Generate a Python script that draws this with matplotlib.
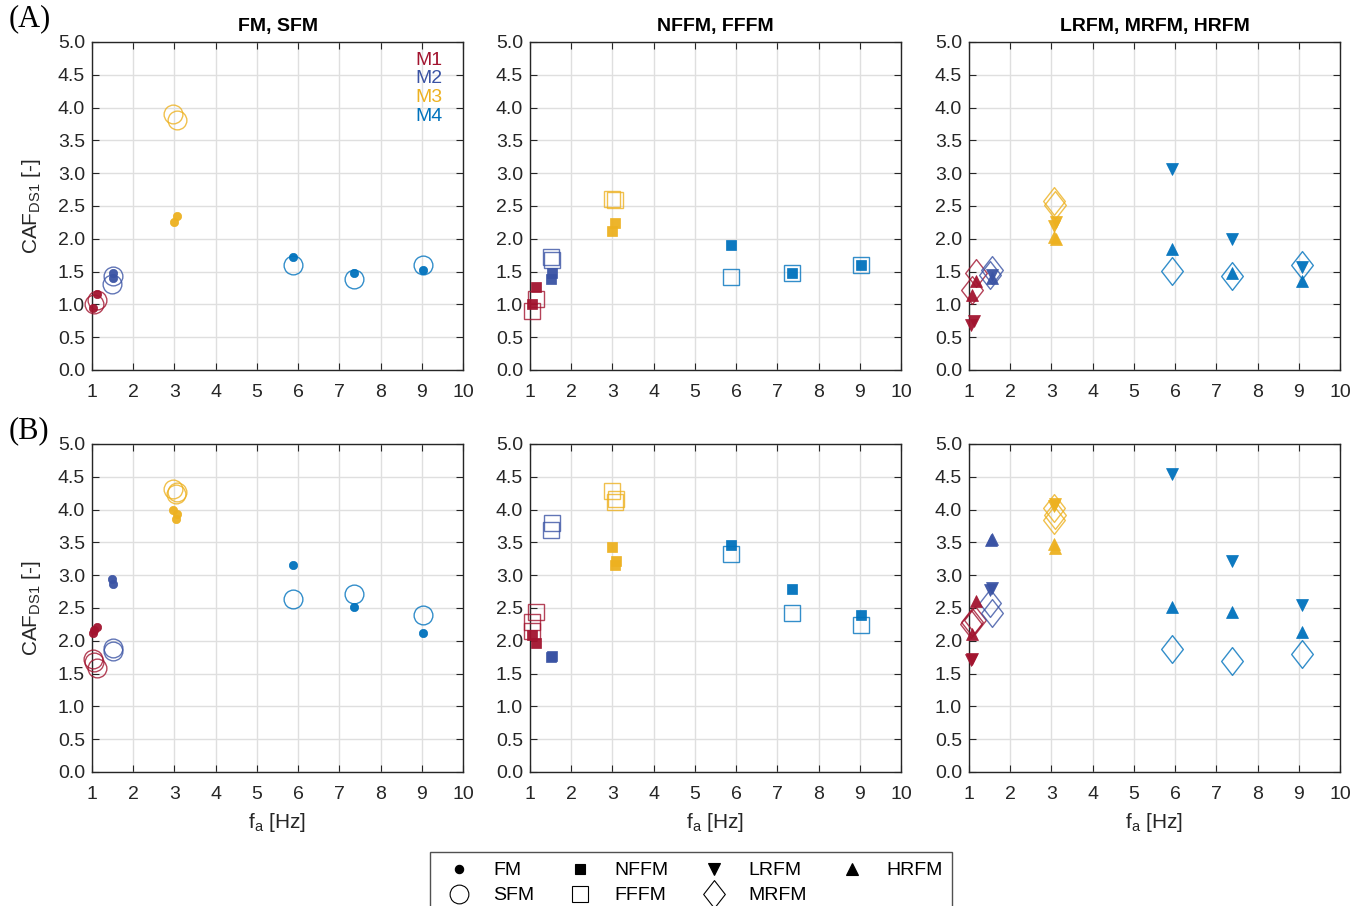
import matplotlib
matplotlib.use('Agg')
import matplotlib.pyplot as plt
from matplotlib.path import Path
from matplotlib.lines import Line2D

plt.rcParams['font.family'] = ['Liberation Sans', 'DejaVu Sans']

# mode colours (M1..M4)
mode_colors = ['#A2142F', '#3A53A4', '#EDB120', '#0072BD']
mode_names = ['M1', 'M2', 'M3', 'M4']

# each entry: (mode, f_a [Hz], CAF_DS1)
# --- case (A) ---
A_FM = [(1, 1.02, 0.94), (1, 1.13, 1.16), (2, 1.50, 1.40), (2, 1.52, 1.48),
        (3, 2.98, 2.26), (3, 3.05, 2.35), (4, 5.87, 1.73), (4, 7.36, 1.48), (4, 9.04, 1.52)]
A_SFM = [(1, 1.05, 1.00), (1, 1.12, 1.07), (2, 1.48, 1.31), (2, 1.52, 1.43),
         (3, 2.97, 3.91), (3, 3.06, 3.81), (4, 5.87, 1.60), (4, 7.36, 1.39), (4, 9.04, 1.60)]
A_NFFM = [(1, 1.04, 1.01), (1, 1.15, 1.26), (2, 1.50, 1.38), (2, 1.53, 1.48),
          (3, 3.00, 2.12), (3, 3.07, 2.24), (4, 5.87, 1.90), (4, 7.35, 1.48), (4, 9.04, 1.60)]
A_FFFM = [(1, 1.04, 0.90), (1, 1.15, 1.08), (2, 1.51, 1.73), (2, 1.54, 1.68),
          (3, 2.99, 2.61), (3, 3.06, 2.59), (4, 5.87, 1.42), (4, 7.35, 1.48), (4, 9.04, 1.60)]
A_LRFM = [(1, 1.05, 0.68), (1, 1.12, 0.74), (2, 1.55, 1.45), (3, 3.07, 2.20),
          (3, 3.10, 2.25), (4, 5.92, 3.07), (4, 7.39, 2.00), (4, 9.07, 1.57)]
A_MRFM = [(1, 1.07, 1.22), (1, 1.17, 1.48), (2, 1.52, 1.45), (2, 1.56, 1.52),
          (3, 3.05, 2.57), (3, 3.09, 2.51), (4, 5.92, 1.51), (4, 7.39, 1.44), (4, 9.07, 1.60)]
A_HRFM = [(1, 1.07, 1.14), (1, 1.17, 1.35), (2, 1.55, 1.40), (3, 3.07, 2.03),
          (3, 3.10, 2.00), (4, 5.92, 1.85), (4, 7.39, 1.48), (4, 9.07, 1.36)]

# --- case (B) ---
B_FM = [(1, 1.02, 2.12), (1, 1.05, 2.17), (1, 1.13, 2.21), (2, 1.48, 2.94), (2, 1.52, 2.86),
        (3, 2.97, 3.99), (3, 3.06, 3.94), (3, 3.04, 3.86),
        (4, 5.87, 3.15), (4, 7.36, 2.51), (4, 9.04, 2.12)]
B_SFM = [(1, 1.02, 1.73), (1, 1.05, 1.68), (1, 1.13, 1.59), (2, 1.52, 1.89), (2, 1.50, 1.84),
         (3, 2.97, 4.32), (3, 3.06, 4.27), (3, 3.04, 4.24),
         (4, 5.87, 2.63), (4, 7.36, 2.72), (4, 9.04, 2.40)]
B_NFFM = [(1, 1.04, 2.09), (1, 1.15, 1.97), (2, 1.53, 1.77), (2, 1.51, 1.76),
          (3, 2.99, 3.43), (3, 3.08, 3.21), (3, 3.06, 3.16),
          (4, 5.87, 3.46), (4, 7.35, 2.79), (4, 9.04, 2.40)]
B_FFFM = [(1, 1.15, 2.44), (1, 1.04, 2.28), (1, 1.04, 2.15), (2, 1.54, 3.79), (2, 1.50, 3.69),
          (3, 2.99, 4.28), (3, 3.08, 4.16), (3, 3.06, 4.12),
          (4, 5.87, 3.32), (4, 7.35, 2.42), (4, 9.04, 2.24)]
B_LRFM = [(1, 1.08, 1.72), (1, 1.04, 1.70), (2, 1.55, 2.81), (2, 1.52, 2.77),
          (3, 3.09, 4.09), (3, 3.05, 4.05), (4, 5.92, 4.55), (4, 7.39, 3.21), (4, 9.07, 2.55)]
B_MRFM = [(1, 1.08, 2.28), (1, 1.15, 2.32), (1, 1.04, 2.25), (2, 1.56, 2.43), (2, 1.52, 2.57),
          (3, 3.05, 4.02), (3, 3.09, 3.92), (3, 3.07, 3.84),
          (4, 5.92, 1.88), (4, 7.39, 1.69), (4, 9.07, 1.80)]
B_HRFM = [(1, 1.17, 2.61), (1, 1.07, 2.10), (2, 1.55, 3.55), (2, 1.53, 3.54),
          (3, 3.05, 3.48), (3, 3.09, 3.41), (4, 5.92, 2.51), (4, 7.39, 2.44), (4, 9.07, 2.13)]

panel_titles = ['FM, SFM', 'NFFM, FFFM', 'LRFM, MRFM, HRFM']
row_labels = ['(A)', '(B)']
x_ticks = list(range(1, 11))
y_ticks = [i * 0.5 for i in range(11)]

# taller-than-wide diamond like MATLAB's
diamond = Path([(0, 1), (0.78, 0), (0, -1), (-0.78, 0), (0, 1)],
               [Path.MOVETO, Path.LINETO, Path.LINETO, Path.LINETO, Path.CLOSEPOLY])

styles = {
    'FM':   dict(marker='o', ms=6, filled=True),
    'SFM':  dict(marker='o', ms=13.5, filled=False),
    'NFFM': dict(marker='s', ms=7, filled=True),
    'FFFM': dict(marker='s', ms=12, filled=False),
    'LRFM': dict(marker='v', ms=9, filled=True),
    'MRFM': dict(marker=diamond, ms=20, filled=False),
    'HRFM': dict(marker='^', ms=9, filled=True),
}

rows = [
    [[('SFM', A_SFM), ('FM', A_FM)],
     [('FFFM', A_FFFM), ('NFFM', A_NFFM)],
     [('MRFM', A_MRFM), ('LRFM', A_LRFM), ('HRFM', A_HRFM)]],
    [[('SFM', B_SFM), ('FM', B_FM)],
     [('FFFM', B_FFFM), ('NFFM', B_NFFM)],
     [('MRFM', B_MRFM), ('LRFM', B_LRFM), ('HRFM', B_HRFM)]],
]


def draw_series(ax, name, points):
    st = styles[name]
    for mode, f, v in points:
        c = mode_colors[mode - 1]
        if st['filled']:
            ax.plot(f, v, linestyle='none', marker=st['marker'], ms=st['ms'],
                    mfc=c, mec=c, mew=0.5, alpha=0.95, clip_on=False, zorder=3)
        else:
            ax.plot(f, v, linestyle='none', marker=st['marker'], ms=st['ms'],
                    mfc='none', mec=c, mew=1.0, alpha=0.8, clip_on=False, zorder=3)


W, H = 1367, 906
fig = plt.figure(figsize=(W / 100, H / 100), dpi=100)

lefts = [92, 530, 969]
width_px = 371
tops = [42, 444]
height_px = 328
axes = []
for r in range(2):
    for c in range(3):
        ax = fig.add_axes([lefts[c] / W, 1 - (tops[r] + height_px) / H,
                           width_px / W, height_px / H])
        for name, pts in rows[r][c]:
            draw_series(ax, name, pts)
        ax.set_xlim(1, 10)
        ax.set_ylim(0, 5)
        ax.set_xticks(x_ticks)
        ax.set_yticks(y_ticks)
        ax.set_yticklabels([f'{t:.1f}' for t in y_ticks])
        ax.grid(True, color='#DFDFDF', lw=1)
        ax.set_axisbelow(True)
        ax.tick_params(direction='in', top=True, right=True, length=5,
                       labelsize=14, colors='#262626', width=0.8)
        ax.tick_params(axis='x', pad=10)
        ax.tick_params(axis='y', pad=5)
        for s in ax.spines.values():
            s.set_color('#262626')
            s.set_linewidth(1)
        if r == 0:
            ax.set_title(panel_titles[c], fontsize=14, fontweight='bold', pad=8)
        if r == 1:
            ax.set_xlabel(r'f$_\mathregular{a}$ [Hz]', fontsize=15, color='#262626', labelpad=6)
        if c == 0:
            ax.set_ylabel(r'CAF$_\mathregular{DS1}$ [-]', fontsize=15, color='#262626', labelpad=11)
        axes.append(ax)

# mode colour key in the first panel
for i, (m, col) in enumerate(zip(mode_names, mode_colors)):
    axes[0].text(0.945, 0.945 - i * 0.057, m, transform=axes[0].transAxes,
                 ha='right', va='center', color=col, fontsize=14)

# row labels
for lab, y in zip(row_labels, [19, 431]):
    fig.text(9 / W, 1 - y / H, lab, family='Liberation Serif', fontsize=22,
             ha='left', va='center')

# shared legend below the panels
handles = []
labels = []
for name in ['FM', 'SFM', 'NFFM', 'FFFM', 'LRFM', 'MRFM', 'HRFM']:
    st = styles[name]
    handles.append(Line2D([], [], linestyle='none', marker=st['marker'], ms=st['ms'],
                          mfc='black' if st['filled'] else 'none', mec='black',
                          mew=0.8))
    labels.append(name)
handles.append(Line2D([], [], linestyle='none'))
labels.append('')

leg = fig.legend(handles, labels, ncol=4, loc='upper left',
                 bbox_to_anchor=(430 / W, 1 - 852 / H), borderaxespad=0,
                 frameon=True, fancybox=False, fontsize=14, handlelength=2.0,
                 handletextpad=0.75, columnspacing=1.35, labelspacing=0.38,
                 borderpad=0.5)
leg.get_frame().set_edgecolor('#262626')
leg.get_frame().set_linewidth(1)

fig.savefig('out.png', dpi=100)
